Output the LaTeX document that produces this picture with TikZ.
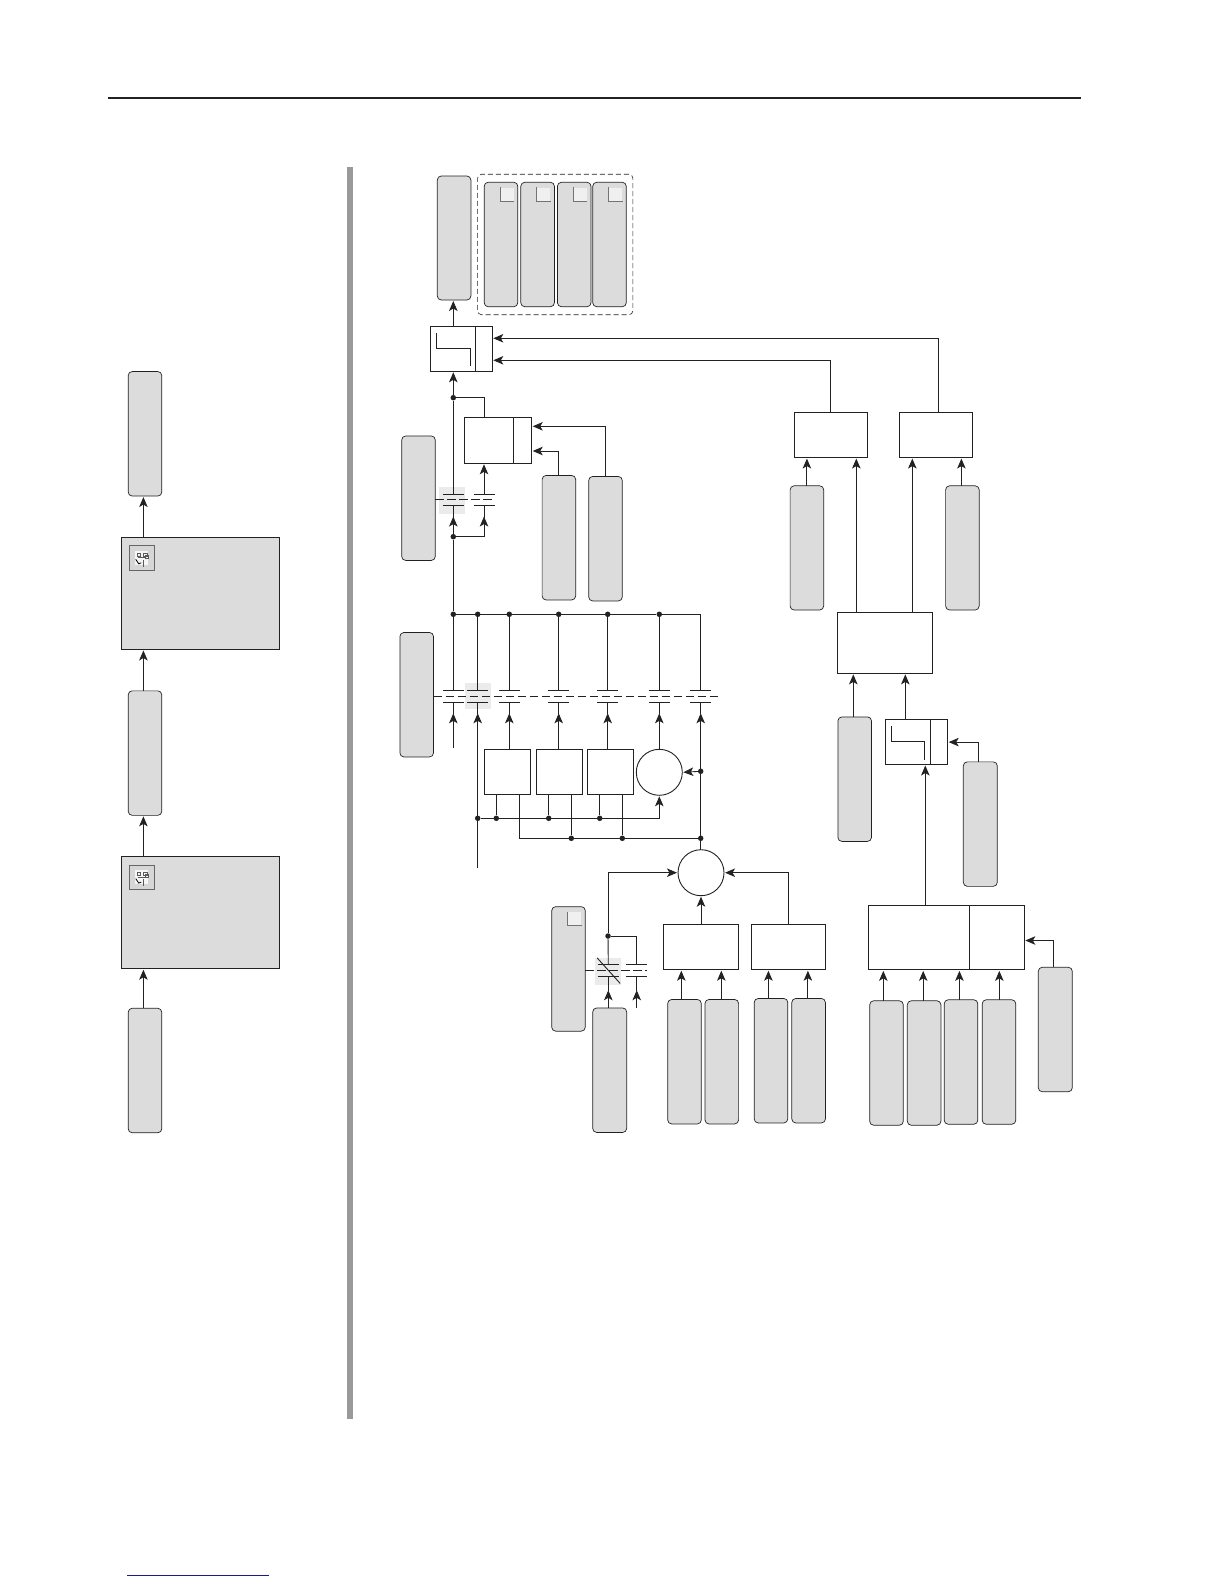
\documentclass[tikz,border=0pt]{standalone}
\usepackage{xcolor}
\usetikzlibrary{arrows.meta,positioning,fit}
\definecolor{wgray}{HTML}{DCDCDC}
\definecolor{wline}{HTML}{222222}
\definecolor{whigh}{HTML}{EBEBEB}
\definecolor{wbar}{HTML}{9A9A9A}
\definecolor{wlink}{HTML}{1A1A8C}
\tikzset{
  ln/.style={draw=wline,line width=0.9pt},
  ar/.style={ln,-{Stealth[length=10pt,width=8.5pt,inset=2.5pt]},shorten >=1pt},
  dsh/.style={ln,dash pattern=on 8.5pt off 3.5pt},
  pill/.style={rounded corners=4pt,draw=wline,line width=0.7pt,fill=wgray,inner sep=0pt,outer sep=0pt,minimum width=33.6pt,minimum height=124.5pt},
  blk/.style={ln,fill=white,inner sep=0pt,outer sep=0pt},
  sumc/.style={circle,ln,fill=white,inner sep=0pt,outer sep=0pt,minimum size=46pt},
  panel/.style={blk,fill=wgray,minimum width=158pt,minimum height=112pt},
  dot/.style={circle,fill=wline,inner sep=0pt,minimum size=5.5pt},
  contact/.style={inner sep=0pt,outer sep=0pt,minimum width=21pt,minimum height=11.5pt},
  hilite/.style={fill=whigh,inner sep=0pt,minimum width=26pt,minimum height=26.5pt},
  tagbox/.style={fill=black!6,inner sep=0pt,minimum size=13.5pt},
  iconbox/.style={draw=black!60,line width=0.8pt,fill=black!16,inner sep=0pt,minimum size=24.5pt},
  icondoc/.style={fill=black!4,inner sep=0pt,minimum width=13pt,minimum height=14pt},
}
\begin{document}
\begin{tikzpicture}[x=1pt,y=-1pt]
  \useasboundingbox (0,0) rectangle (1224,1584);
  % page furniture
  \coordinate (headL) at (108,98);
  \coordinate (headR) at (1080.6,98);
  \coordinate (barT) at (350,167);
  \coordinate (barB) at (350,1419);
  \coordinate (linkL) at (127,1575.3);
  \coordinate (linkR) at (269,1575.3);
  \draw[wline,line width=1.7pt] (headL) -- (headR);
  \draw[wbar,line width=5.6pt] (barT) -- (barB);
  \draw[wlink,line width=0.9pt] (linkL) -- (linkR);

  % left column
  \node[pill] (src) at (145,1070.5) {};
  \node[panel,above=39.5pt of src,xshift=55.3pt] (pnlB) {};
  \node[pill,above=41.4pt of pnlB,xshift=-55.3pt] (mdlB) {};
  \node[panel,above=41.4pt of mdlB,xshift=55.3pt] (pnlA) {};
  \node[pill,above=41.4pt of pnlA,xshift=-55.3pt] (mdlA) {};
  \coordinate (railL) at (143.4,0);
  \draw[ar] (src.north -| railL) -- (pnlB.south -| railL);
  \draw[ar] (pnlB.north -| railL) -- (mdlB.south -| railL);
  \draw[ar] (mdlB.north -| railL) -- (pnlA.south -| railL);
  \draw[ar] (pnlA.north -| railL) -- (mdlA.south -| railL);
  \foreach \p in {pnlA,pnlB}{
    \node[iconbox,anchor=north west] (ico\p) at ([xshift=8pt,yshift=-8pt]\p.north west) {};
    \node[icondoc] (doc\p) at (ico\p) {};
    \draw[black!65,line width=0.7pt] ([xshift=-5pt,yshift=-2pt]doc\p.north) rectangle ++(3.5,3.5)
      ([xshift=1.5pt,yshift=-2pt]doc\p.north) rectangle ++(3.5,3.5)
      ([xshift=-4pt,yshift=0.5pt]doc\p.center) -- ++(8,0) ([xshift=1pt,yshift=-1.5pt]doc\p.center) -- ++(0,7)
      ([xshift=3pt,yshift=3pt]doc\p.center) rectangle ++(3,3);
    \draw[black,line width=0.8pt] ([xshift=0.5pt,yshift=6pt]doc\p.south west) -- ++(3,4.5) -- ++(2.5,-1);
  }

  % output stage
  \node[blk,minimum width=62pt,minimum height=45pt] (swA) at (461.3,348.8) {};
  \node[pill,above=26.3pt of swA,xshift=-7.2pt,minimum height=124pt] (out) {};
  \node[pill] (m1) at (501,244.5) {};
  \node[pill,right=3pt of m1] (m2) {};
  \node[pill,right=3pt of m2] (m3) {};
  \node[pill,right=1.7pt of m3] (m4) {};
  \node[fit=(m1)(m2)(m3)(m4),draw=wline,line width=0.6pt,dash pattern=on 5pt off 3pt,rounded corners=4pt,inner xsep=6.6pt,inner ysep=8pt] (mods) {};
  \draw[ln] ([xshift=-17pt]swA.north east) -- ([xshift=-17pt]swA.south east);
  \draw[ln] ([xshift=6pt,yshift=-6.7pt]swA.north west) -- ++(0,15.7) -- ++(33.7,0) -- ++(0,17.6);

  % first contact pair
  \node[pill] (coilA) at (418.5,498.2) {};
  \node[contact] (cA1) at (453.3,499.8) {};
  \node[contact] (cA2) at (484,499.8) {};
  \node[hilite] (hiA) at (452,500.3) {};
  \node[blk,minimum width=67.4pt,minimum height=46pt] (tmA) at (498,440.3) {};
  \node[pill] (rtA) at (558.9,537.7) {};
  \node[pill,right=13pt of rtA,yshift=-1pt] (rtB) {};
  \draw[ln] ([xshift=-18pt]tmA.north east) -- ([xshift=-18pt]tmA.south east);
  \node[dot] (jA1) at (453.3,397.7) {};
  \node[dot] (jA2) at (453.3,536.7) {};

  % second contact row
  \node[pill] (coilB) at (416.7,694.7) {};
  \foreach \c/\x in {cB1/453.3,cB2/477.7,cB3/509.3,cB4/558.7,cB5/607.7,cB6/659.3,cB7/700.7}
    \node[contact,minimum height=12pt] (\c) at (\x,696.3) {};
  \node[hilite] (hiB) at (478.3,696) {};
  \foreach \j/\x in {jB1/453.3,jB2/477.7,jB3/509.3,jB4/558.7,jB5/607.7,jB6/659.3}
    \node[dot] (\j) at (\x,614.3) {};
  \node[blk,minimum width=46pt,minimum height=45pt] (b1) at (507.3,771.8) {};
  \node[blk,minimum width=46.4pt,minimum height=45pt,right=6pt of b1] (b2) {};
  \node[blk,minimum width=46pt,minimum height=45pt,right=4.6pt of b2] (b3) {};
  \node[sumc,right=3pt of b3,yshift=-0.5pt] (cirA) {};
  \coordinate (fB1) at (453.3,748.3);
  \coordinate (fB2) at (477.7,867.7);
  \coordinate (xQ) at (519.3,0);
  \node[dot] (jD1) at (700.7,771.3) {};
  \node[dot] (jD2) at (700.7,838.3) {};
  \foreach \j/\x in {jE1/477.7,jE2/496.3,jE3/548.7,jE4/599.7}
    \node[dot] (\j) at (\x,818.3) {};
  \foreach \j/\x in {jF1/571.3,jF2/622.3}
    \node[dot] (\j) at (\x,838.3) {};

  % summing stage
  \node[sumc] (csum) at (701,872.7) {};
  \node[blk,minimum width=75.4pt,minimum height=45.4pt] (sm1) at (701,947) {};
  \node[blk,minimum width=74.4pt,minimum height=45.4pt,right=12.6pt of sm1] (sm2) {};
  \node[pill] (i1) at (684.5,1061.7) {};
  \node[pill,right=3.7pt of i1] (i2) {};
  \node[pill,right=15.6pt of i2,yshift=1pt] (i3) {};
  \node[pill,right=4pt of i3] (i4) {};
  \node[pill] (tagP) at (568.5,968.9) {};
  \node[pill,minimum width=34pt] (bot) at (609.7,1070.2) {};
  \node[contact] (cC1) at (608.3,970.5) {};
  \node[contact] (cC2) at (636.7,970.5) {};
  \node[hilite,minimum height=27.3pt] (hiC) at (608,971.3) {};
  \node[dot] (jC) at (608,936) {};
  \coordinate (fC2) at (636.7,1008);

  % right group
  \node[blk,minimum width=73.2pt,minimum height=45.5pt] (rA) at (830.9,434.8) {};
  \node[blk,minimum width=72.7pt,minimum height=45.5pt,right=32.3pt of rA] (rB) {};
  \node[pill,minimum height=124.2pt] (pA) at (806.9,547.9) {};
  \node[pill,minimum height=124.2pt] (pB) at (962.4,547.9) {};
  \node[blk,minimum width=94.7pt,minimum height=61pt] (mid) at (884.9,642.9) {};
  \node[pill,below=43.5pt of mid,xshift=-30.2pt] (tall) {};
  \node[blk,minimum width=62.4pt,minimum height=44.8pt] (swB) at (916.5,742.1) {};
  \node[pill,minimum width=34pt] (pR) at (980.3,824.1) {};
  \node[blk,minimum width=156pt,minimum height=64.1pt] (big) at (946.3,937.8) {};
  \node[pill] (n1) at (886.5,1063) {};
  \node[pill,right=4pt of n1] (n2) {};
  \node[pill,right=3.3pt of n2,yshift=1pt] (n3) {};
  \node[pill,right=4.4pt of n3] (n4) {};
  \node[pill,minimum width=34pt] (far) at (1055.3,1029.5) {};
  \draw[ln] ([xshift=-17.4pt]swB.north east) -- ([xshift=-17.4pt]swB.south east);
  \draw[ln] ([xshift=6pt,yshift=-6.5pt]swB.north west) -- ++(0,15.2) -- ++(33.4,0) -- ++(0,18.6);
  \draw[ln] ([xshift=-54.6pt]big.north east) -- ([xshift=-54.6pt]big.south east);

  % corner tags
  \foreach \m in {m1,m2,m3,m4,tagP}{
    \node[tagbox,anchor=north east] (tag\m) at ([xshift=-3.8pt,yshift=-5.2pt]\m.north east) {};
    \draw[black!55,line width=1.2pt] (tag\m.north west) |- (tag\m.south east);
  }

  % contacts
  \foreach \c in {cA1,cA2,cB1,cB2,cB3,cB4,cB5,cB6,cB7,cC1,cC2}
    \draw[ln] (\c.north west) -- (\c.north east) (\c.south west) -- (\c.south east) (\c.south) -- ++(0,12);
  \foreach \c in {cC1,cC2}
    \draw[ln] (\c.south) -- ++(0,15);
  \draw[dsh] (coilA.east |- cA1) -- (cA2.east);
  \draw[dsh] (coilB.east |- cB1) -- ([xshift=8pt]cB7.east);
  \draw[dsh] (tagP.east |- cC1) -- (cC2.east);
  \draw[ln] ([xshift=2.3pt,yshift=-0.4pt]hiC.north west) -- ([xshift=-1pt,yshift=1.7pt]hiC.south east);

  % connections, output stage
  \draw[ar] (swA.north -| jA1) -- (out.south -| jA1);
  \draw[ar] (jA1) -- (swA.south -| jA1);
  \draw[ln] (jA1) -- (cA1.north);
  \draw[ln] (jA1) -| (cA2 |- tmA.north);
  \draw[ar] (cA2.north) -- (cA2 |- tmA.south);
  \draw[ar] (jA2) -- ([yshift=-10pt]cA1.south);
  \draw[ar] (jA2) -| ([yshift=-10pt]cA2.south);
  \draw[ln] (jA2) -- (jB1);
  \draw[ar] (rtA.north) |- ([yshift=-10.7pt]tmA.east);
  \draw[ar] (rtB.north) |- ([yshift=14pt]tmA.east);
  \draw[ar] (rA.north) |- ([yshift=-11.5pt]swA.east);
  \draw[ar] ([xshift=2pt]rB.north) |- ([yshift=10.5pt]swA.east);

  % bus and row
  \draw[ln] (jB1) -- (jB6) -| (cB7.north);
  \foreach \n in {2,3,4,5,6}
    \draw[ln] (jB\n) -- (cB\n.north);
  \draw[ln] (jB1) -- (cB1.north);
  \draw[ar] (fB1) -- ([yshift=-10pt]cB1.south);
  \draw[ar] (fB2) -- ([yshift=-10pt]cB2.south);
  \draw[ar] (b1.north -| cB3) -- ([yshift=-10pt]cB3.south);
  \draw[ar] (b2.north -| cB4) -- ([yshift=-10pt]cB4.south);
  \draw[ar] (b3.north -| cB5) -- ([yshift=-10pt]cB5.south);
  \draw[ar] (cirA.north -| cB6) -- ([yshift=-10pt]cB6.south);
  \draw[ar] (csum.north -| cB7) -- ([yshift=-10pt]cB7.south);
  \draw[ar] (jD1) -- (cirA.east);
  \draw[ar] (jE1) -| (cirA.south);
  \draw[ln] (b1.south -| jE2) -- (jE2);
  \draw[ln] (b2.south -| jE3) -- (jE3);
  \draw[ln] (b3.south -| jE4) -- (jE4);
  \draw[ln] (b1.south -| xQ) |- (jD2);
  \draw[ln] (b2.south -| jF1) -- (jF1);
  \draw[ln] (b3.south -| jF2) -- (jF2);

  % connections, summing stage
  \draw[ar] (jC) |- (csum.west);
  \draw[ln] (jC) -- (cC1.north);
  \draw[ln] (jC) -| (cC2.north);
  \draw[ar] (bot.north -| cC1) -- ([yshift=-13pt]cC1.south);
  \draw[ar] (fC2) -- ([yshift=-13pt]cC2.south);
  \draw[ar] (sm1.north) -- (csum.south);
  \draw[ar] (sm2.north) |- (csum.east);
  \foreach \a/\b/\s in {i1/sm1/-3.2,i2/sm1/-0.5,i3/sm2/-2.6,i4/sm2/-0.7}
    \draw[ar] ([xshift=\s pt]\a.north) -- ([xshift=\s pt]\a.north |- \b.south);

  % connections, right group
  \coordinate (xM1) at (856.3,0);
  \coordinate (xM2) at (912.3,0);
  \coordinate (xM3) at (853.3,0);
  \coordinate (xM4) at (905.3,0);
  \coordinate (xM5) at (925.3,0);
  \draw[ar] (pA.north) -- (pA.north |- rA.south);
  \draw[ar] (mid.north -| xM1) -- (rA.south -| xM1);
  \draw[ar] (mid.north -| xM2) -- (rB.south -| xM2);
  \draw[ar] ([xshift=-1pt]pB.north) -- ([xshift=-1pt]pB.north |- rB.south);
  \draw[ar] (tall.north -| xM3) -- (mid.south -| xM3);
  \draw[ar] (swB.north -| xM4) -- (mid.south -| xM4);
  \draw[ar] (big.north -| xM5) -- (swB.south -| xM5);
  \draw[ar] ([xshift=-2pt]pR.north) |- (swB.east);
  \draw[ar] ([xshift=-2pt]far.north) |- ([yshift=-2.7pt]big.east);
  \foreach \a/\s in {n1/-3.2,n2/-0.9,n3/-1.6,n4/0.3}
    \draw[ar] ([xshift=\s pt]\a.north) -- ([xshift=\s pt]\a.north |- big.south);
\end{tikzpicture}
\end{document}
